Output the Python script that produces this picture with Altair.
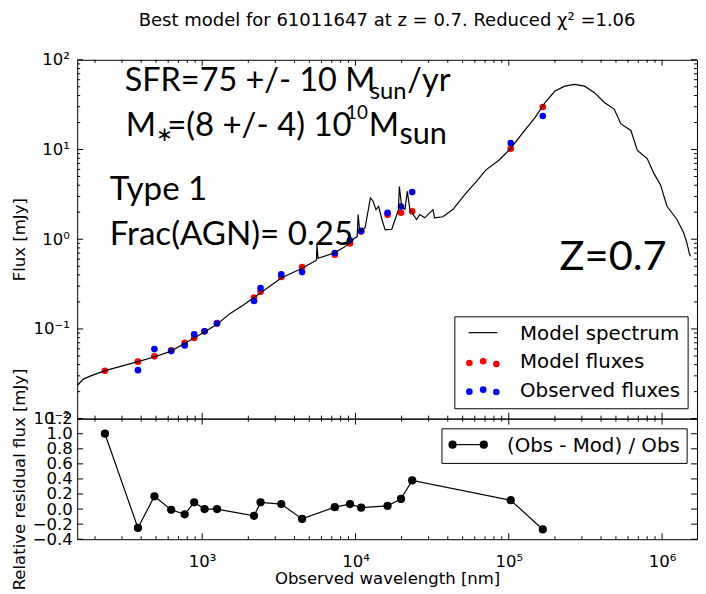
import altair as alt
import pandas as pd

# ---------------- data ----------------
spec_wl = [154, 168, 186, 230, 381, 486, 628, 770, 887, 1036, 1249, 1524, 1858, 2322, 3281,
           4416, 5521, 5570, 5600, 5700, 7262, 8418, 9204, 9817, 10260, 10410, 10610, 10890,
           11560, 12510, 13010, 13610, 14160, 14870, 15620, 17260, 18130, 19070, 19330, 20010,
           21020, 21780, 22640, 25020, 26260, 28290, 30490, 32060, 32810, 37170, 43130, 52600,
           60990, 70760, 86170, 102500, 121900, 148600, 172400, 200000, 232000, 269000, 312000,
           362000, 420000, 487000, 539000, 626000, 690000, 800000, 884000, 977000, 1077000,
           1250000, 1380000, 1449000, 1510000, 1532000]
spec_flux = [0.0237, 0.0276, 0.0298, 0.0341, 0.0432, 0.0486, 0.0566, 0.0693, 0.0793, 0.0923,
             0.113, 0.149, 0.185, 0.242, 0.369, 0.468, 0.578, 0.590, 0.875, 0.613, 0.701, 0.811,
             0.920, 1.02, 1.07, 1.88, 1.31, 1.22, 1.35, 2.88, 2.67, 2.14, 2.33, 1.66, 1.27, 1.29,
             1.66, 2.14, 3.87, 2.33, 2.14, 3.41, 2.14, 1.66, 1.88, 1.73, 1.97, 2.14, 1.73, 1.78,
             2.14, 3.27, 4.32, 5.90, 7.60, 10.2, 14.9, 22.8, 33.4, 44.8, 50.8, 53.1, 50.8, 43.0,
             33.4, 28.2, 19.3, 16.3, 9.79, 7.93, 5.42, 4.03, 2.33, 1.66, 1.19, 0.920, 0.684, 0.645]

phot_wl = [232, 381, 488, 628, 769, 887, 1036, 1250, 2178, 2404, 3281, 4486, 7330, 9208,
           10890, 16190, 19810, 23440, 103000, 166700]
model_flux = [0.0341, 0.0432, 0.0495, 0.0577, 0.0699, 0.0793, 0.094, 0.116, 0.224, 0.259,
              0.379, 0.489, 0.673, 0.897, 1.216, 1.87, 1.97, 2.04, 10.2, 29.8]
obs_flux = [None, 0.0347, 0.0596, 0.0566, 0.0655, 0.0871, 0.094, 0.115, 0.205, 0.286,
            0.405, 0.430, 0.701, 0.975, 1.237, 1.97, 2.31, 3.35, 11.8, 23.6]
residual = [1.0, -0.25, 0.17, -0.01, -0.07, 0.09, 0.0, 0.0, -0.09, 0.09, 0.066, -0.13,
            0.026, 0.066, 0.02, 0.043, 0.135, 0.38, 0.118, -0.27]

x_major = [1e3, 1e4, 1e5, 1e6]
x_minor = [200, 300, 400, 500, 600, 700, 800, 900,
           2000, 3000, 4000, 5000, 6000, 7000, 8000, 9000,
           20000, 30000, 40000, 50000, 60000, 70000, 80000, 90000,
           200000, 300000, 400000, 500000, 600000, 700000, 800000, 900000]
y1_major = [0.01, 0.1, 1, 10, 100]
y1_minor = [0.02, 0.03, 0.04, 0.05, 0.06, 0.07, 0.08, 0.09,
            0.2, 0.3, 0.4, 0.5, 0.6, 0.7, 0.8, 0.9,
            2, 3, 4, 5, 6, 7, 8, 9,
            20, 30, 40, 50, 60, 70, 80, 90]
y2_major = [-0.4, -0.2, 0.0, 0.2, 0.4, 0.6, 0.8, 1.0, 1.2]

title_text = "Best model for 61011647 at z = 0.7. Reduced χ² =1.06"
legend_labels = ["Model spectrum", "Model fluxes", "Observed fluxes"]
resid_label = "(Obs - Mod) / Obs"

# ---------------- layout ----------------
W, H1, H2 = 627, 363, 122
MAJ, MIN = 6, 3
AX_FONT = "DejaVu Sans"
AX_SIZE = 16.7
ANN_FONT = "Lato"

xscale = alt.Scale(type="log", domain=[153, 1.69e6], nice=False)
y1scale = alt.Scale(type="log", domain=[0.01, 100], nice=False)
y2scale = alt.Scale(domain=[-0.4, 1.2], nice=False, zero=False)

y1_label_expr = ("datum.value < 0.05 ? '10⁻²' : datum.value < 0.5 ? '10⁻¹' : "
                 "datum.value < 5 ? '10⁰' : datum.value < 50 ? '10¹' : '10²'")
x_label_expr = ("datum.value < 5000 ? '10³' : datum.value < 50000 ? '10⁴' : "
                "datum.value < 500000 ? '10⁵' : '10⁶'")

Y1AX = alt.Axis(values=y1_major, labelExpr=y1_label_expr, ticks=False, tickSize=0,
                domain=False, grid=False, labelPadding=8, labelOverlap=False,
                labelFlush=False, title="Flux [mJy]", titleX=-58, titleY=H1 / 2,
                titleAngle=270, titleAlign="center", titleBaseline="middle")
X2AX = alt.Axis(values=x_major, labelExpr=x_label_expr, ticks=False, tickSize=0,
                domain=False, grid=False, labelPadding=15, labelOverlap=False,
                labelFlush=False, title="Observed wavelength [nm]",
                titleY=45, titleX=W / 2, titleBaseline="alphabetic", titleAlign="center")
Y2AX = alt.Axis(values=y2_major, format=".1f", ticks=False, tickSize=0,
                domain=False, grid=False, labelPadding=5, labelOverlap=False,
                labelFlush=False, title="Relative residual flux [mJy]",
                titleX=-58, titleY=H2 / 2, titleAngle=270, titleAlign="center",
                titleBaseline="middle")

spec_df = pd.DataFrame({"wl": spec_wl, "flux": spec_flux, "i": list(range(len(spec_wl)))})
phot_df = pd.DataFrame({"wl": phot_wl, "mod": model_flux, "obs": obs_flux, "res": residual})
obs_df = phot_df.dropna(subset=["obs"])


def one():
    return pd.DataFrame({"t": [0]})


def text(s, x, y, size, font=ANN_FONT, baseline="alphabetic", align="left"):
    return alt.Chart(pd.DataFrame({"t": [s]})).mark_text(
        font=font, fontSize=size, color="black", baseline=baseline, align=align
    ).encode(x=alt.value(x), y=alt.value(y), text="t:N")


def xticks(values, length, h, axis):
    base = alt.Chart(pd.DataFrame({"v": values}))
    top = base.mark_rule(color="black", strokeWidth=1).encode(
        x=alt.X("v:Q", scale=xscale, axis=axis), y=alt.value(0), y2=alt.value(length))
    bot = base.mark_rule(color="black", strokeWidth=1).encode(
        x=alt.X("v:Q", scale=xscale, axis=axis), y=alt.value(h), y2=alt.value(h - length))
    return [top, bot]


def yticks(values, length, scale, axis):
    base = alt.Chart(pd.DataFrame({"v": values}))
    left = base.mark_rule(color="black", strokeWidth=1).encode(
        y=alt.Y("v:Q", scale=scale, axis=axis), x=alt.value(0), x2=alt.value(length))
    right = base.mark_rule(color="black", strokeWidth=1).encode(
        y=alt.Y("v:Q", scale=scale, axis=axis), x=alt.value(W), x2=alt.value(W - length))
    return [left, right]


# ---------------- upper panel ----------------
red = alt.Chart(phot_df).mark_circle(color="#ff0000", size=45, opacity=1).encode(
    x=alt.X("wl:Q", scale=xscale, axis=None),
    y=alt.Y("mod:Q", scale=y1scale, axis=Y1AX),
)
blue = alt.Chart(obs_df).mark_circle(color="#0000ff", size=45, opacity=1).encode(
    x=alt.X("wl:Q", scale=xscale, axis=None),
    y=alt.Y("obs:Q", scale=y1scale, axis=Y1AX),
)
spec = alt.Chart(spec_df).mark_line(color="black", strokeWidth=1.2).encode(
    x=alt.X("wl:Q", scale=xscale, axis=None),
    y=alt.Y("flux:Q", scale=y1scale, axis=Y1AX),
    order=alt.Order("i:Q"),
)

upper_layers = [red, blue, spec]
upper_layers += xticks(x_major, MAJ, H1, None) + xticks(x_minor, MIN, H1, None)
upper_layers += yticks(y1_major, MAJ, y1scale, Y1AX) + yticks(y1_minor, MIN, y1scale, Y1AX)

# legend (upper)
upper_layers.append(alt.Chart(one()).mark_rect(fill="white", stroke="black", strokeWidth=1).encode(
    x=alt.value(382), x2=alt.value(618), y=alt.value(260), y2=alt.value(353)))
upper_layers.append(alt.Chart(one()).mark_rule(color="black", strokeWidth=1.2).encode(
    x=alt.value(396), x2=alt.value(425), y=alt.value(276)))
for (dx, dy) in [(396.7, 306.7), (410.7, 305), (424, 307.7)]:
    upper_layers.append(alt.Chart(one()).mark_circle(color="#ff0000", size=45, opacity=1).encode(
        x=alt.value(dx), y=alt.value(dy)))
for (dx, dy) in [(396.7, 335.7), (410.7, 333.7), (424, 336)]:
    upper_layers.append(alt.Chart(one()).mark_circle(color="#0000ff", size=45, opacity=1).encode(
        x=alt.value(dx), y=alt.value(dy)))
upper_layers.append(text(legend_labels[0], 448, 283, 20, font=AX_FONT))
upper_layers.append(text(legend_labels[1], 448, 312, 20, font=AX_FONT))
upper_layers.append(text(legend_labels[2], 448, 341, 20, font=AX_FONT))

# annotations
upper_layers += [
    text("SFR=75 +/- 10 M", 48, 32, 32.8),
    text("sun", 296, 40, 24),
    text("/yr", 334, 32, 32.8),
    text("M", 49, 77, 33),
    text("∗", 80, 82, 20, font="DejaVu Sans"),
    text("=(8 +/- 4) 10", 91, 77, 33.3),
    text("10", 272, 60, 19),
    text("M", 295, 77, 33),
    text("sun", 326, 85, 31),
    text("Type 1", 33, 142, 33.5),
    text("Frac(AGN)= 0.25", 33, 187, 33.5),
    text("Z=0.7", 488, 213, 42),
]

upper = alt.layer(*upper_layers).properties(width=W, height=H1)

# ---------------- lower panel ----------------
res = alt.Chart(phot_df).mark_line(
    color="black", strokeWidth=1.2,
    point=alt.OverlayMarkDef(filled=True, color="black", size=69, opacity=1),
).encode(
    x=alt.X("wl:Q", scale=xscale, axis=X2AX),
    y=alt.Y("res:Q", scale=y2scale, axis=Y2AX),
)

lower_layers = [res]
lower_layers += xticks(x_major, MAJ, H2, X2AX) + xticks(x_minor, MIN, H2, X2AX)
lower_layers += yticks(y2_major, MAJ, y2scale, Y2AX)

lower_layers.append(alt.Chart(one()).mark_rect(fill="white", stroke="black", strokeWidth=1).encode(
    x=alt.value(369), x2=alt.value(617), y=alt.value(10.3), y2=alt.value(45.3)))
lower_layers.append(alt.Chart(one()).mark_rule(color="black", strokeWidth=1.2).encode(
    x=alt.value(379.7), x2=alt.value(411.3), y=alt.value(26.3)))
for dx in [379.7, 411.3]:
    lower_layers.append(alt.Chart(one()).mark_circle(color="black", size=69, opacity=1).encode(
        x=alt.value(dx), y=alt.value(26.3)))
lower_layers.append(text(resid_label, 434.7, 33.7, 20, font=AX_FONT))

lower = alt.layer(*lower_layers).properties(width=W, height=H2)

chart = alt.vconcat(upper, lower, spacing=0, bounds="flush").properties(
    title=alt.Title(title_text, font=AX_FONT, fontSize=18.2, fontWeight="normal",
                    color="black", anchor="middle", frame="group", offset=21),
    padding={"left": 3, "top": 0, "right": 0, "bottom": 0},
).configure_view(stroke="black", strokeWidth=1).configure_axis(
    labelFont=AX_FONT, labelFontSize=AX_SIZE, labelColor="black",
    titleFont=AX_FONT, titleFontSize=AX_SIZE, titleFontWeight="normal", titleColor="black",
)

chart.save("out.html", embed_options={"renderer": "svg", "actions": False})
